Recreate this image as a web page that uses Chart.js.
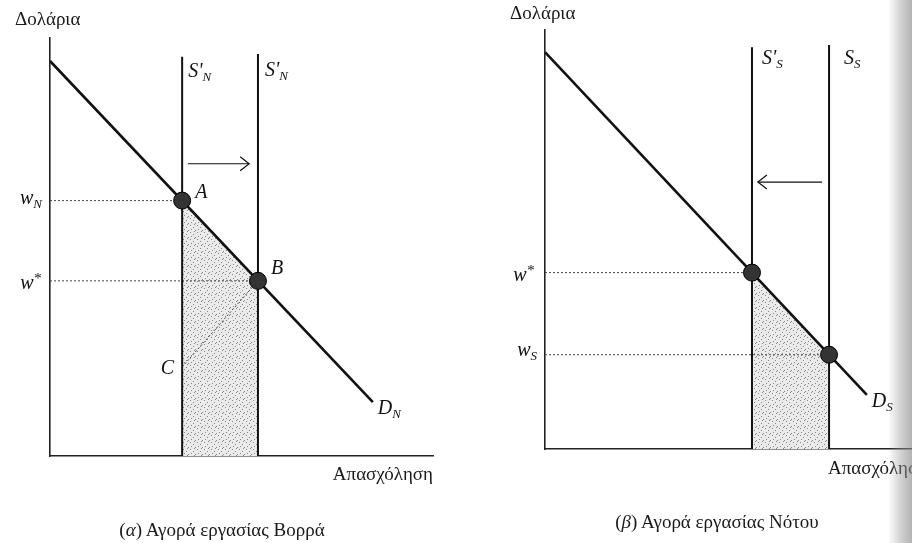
<!DOCTYPE html>
<html><head><meta charset="utf-8">
<script src="https://cdn.jsdelivr.net/npm/chart.js@4.4.1/dist/chart.umd.min.js"></script>
<style>
html,body{margin:0;padding:0;background:#fff;width:912px;height:543px;overflow:hidden;}
#wrap{position:relative;width:912px;height:543px;}
.panel{position:absolute;top:0;width:456px;height:543px;}
#pa{left:0}#pb{left:456px}
.cap{position:absolute;font-family:"Liberation Serif",serif;font-size:19px;line-height:19px;color:#1a1a1a;white-space:nowrap;transform:translateX(-50%);}
#edge{position:absolute;right:0;top:0;width:24px;height:543px;background:linear-gradient(to right,rgba(160,160,160,0),rgba(150,150,150,0.45) 55%,rgba(140,140,140,0.65));pointer-events:none;}
</style></head><body>
<div id="wrap">
<div class="panel" id="pa"><canvas id="ca" width="456" height="543"></canvas></div>
<div class="panel" id="pb"><canvas id="cb" width="456" height="543"></canvas></div>
<div class="cap" id="capA" style="left:222px;top:520px">(<i>α</i>) Αγορά εργασίας Βορρά</div>
<div class="cap" id="capB" style="left:717px;top:512px">(<i>β</i>) Αγορά εργασίας Νότου</div>
<div id="edge"></div>
</div>
<script>
// ---- Data (employment on x, dollars on y; arbitrary units 0-100) ----
// Panel (a): North
const northDemandX = [0, 84.3];
const northDemandY = [94.5, 12.9];
const northSupplyX = [34.5, 54.3];        // S'_N (before) , S'_N (after)
const northSupplyTop = [95.5, 96.2];
const northEquilX = [34.5, 54.3];          // A, B
const northEquilY = [61.1, 41.9];
const northEquilLabels = ['A', 'B'];
const northPointC = [34.5, 21.3];
const northWageLabels = ['N', '*'];        // w_N, w*
const northArrowX = [36, 52];
const northArrowY = 69.9;

// Panel (b): South
const southDemandX = [0, 87.7];
const southDemandY = [94.7, 12.9];
const southSupplyX = [56.4, 77.4];         // S'_S , S_S
const southSupplyTop = [95.9, 96.4];
const southEquilX = [56.4, 77.4];
const southEquilY = [42.1, 22.5];
const southWageLabels = ['*', 'S'];        // w*, w_S
const southArrowX = [75.5, 58];
const southArrowY = 63.7;

// ---- helpers ----
function makePattern(){
  const c = document.createElement('canvas'); c.width = 7; c.height = 7;
  const g = c.getContext('2d');
  g.fillStyle = '#ebebeb'; g.fillRect(0,0,7,7);
  g.fillStyle = '#858585';
  [[1,1],[4,3],[2,5],[6,6],[5,0]].forEach(p=>g.fillRect(p[0],p[1],1,1));
  return g.createPattern(c,'repeat');
}
const SERIF = '"Liberation Serif", "DejaVu Serif", serif';
function line(pts, opts){
  return Object.assign({data: pts, showLine: true, pointRadius: 0, borderColor: '#111', borderWidth: 2, fill: false, tension: 0}, opts||{});
}
function drawMath(ctx, x, y, main, sub, sup, align){
  ctx.save();
  ctx.fillStyle = '#111';
  ctx.textBaseline = 'alphabetic';
  const fMain = 'italic 20px ' + SERIF, fSub = 'italic 13px ' + SERIF;
  ctx.font = fMain; const wm = ctx.measureText(main).width;
  ctx.font = fSub; const ws = sub ? ctx.measureText(sub).width : 0;
  const wp = sup ? ctx.measureText(sup).width : 0;
  const total = wm + Math.max(ws, wp) + 1;
  let x0 = align === 'right' ? x - total : x;
  ctx.font = fMain; ctx.fillText(main, x0, y);
  ctx.font = fSub;
  if (sub) ctx.fillText(sub, x0 + wm, y + 4);
  if (sup) { ctx.font = 'italic 15px ' + SERIF; ctx.fillText(sup, x0 + wm, y - 6); }
  ctx.restore();
}
const annotate = {
  id: 'annotate',
  afterDatasetsDraw(chart){
    const {ctx, chartArea, scales} = chart;
    const o = chart.options.plugins.annotate;
    const px = v => scales.x.getPixelForValue(v), py = v => scales.y.getPixelForValue(v);
    chart.data.datasets.forEach((ds,i)=>{
      if (!ds.arrow) return;
      const pts = chart.getDatasetMeta(i).data;
      const a = pts[pts.length-2], b = pts[pts.length-1];
      const dir = Math.sign(b.x - a.x);
      ctx.save(); ctx.strokeStyle = '#111'; ctx.lineWidth = 1.2;
      ctx.beginPath();
      ctx.moveTo(b.x - dir*9, b.y - 7); ctx.lineTo(b.x, b.y); ctx.lineTo(b.x - dir*9, b.y + 7);
      ctx.stroke(); ctx.restore();
    });
    o.labels.forEach(l => drawMath(ctx, px(l.x) + l.dx, py(l.y) + l.dy, l.main, l.sub, l.sup, l.align));
    ctx.save(); ctx.fillStyle = '#1a1a1a'; ctx.font = '19px ' + SERIF; ctx.textBaseline = 'alphabetic';
    ctx.textAlign = 'left';
    ctx.fillText(o.yName, chartArea.left + o.yNameDx, chartArea.top + o.yNameDy);
    ctx.textAlign = o.xNameAlign;
    ctx.fillText(o.xName, (o.xNameAlign === 'right' ? chartArea.right : chartArea.left) + o.xNameDx, chartArea.bottom + o.xNameDy);
    ctx.restore();
  }
};
function scalesCfg(){
  const ax = {type:'linear', min:0, max:100, ticks:{display:false}, grid:{display:false, drawTicks:false}, border:{display:true, color:'#222', width:1.6}};
  return {x: Object.assign({}, ax), y: Object.assign({}, ax)};
}
const pattern = makePattern();
const dashed = {borderWidth: 1, borderColor: '#444', borderDash: [2,2], order: 8};
const dotStyle = {showLine:false, pointRadius: 8.5, pointBackgroundColor: '#333', pointBorderColor: '#000', pointBorderWidth: 1, order: 1};

// ---- Panel (a) ----
const dsA = [
  line([{x:northEquilX[0], y:northEquilY[0]}, {x:northEquilX[1], y:northEquilY[1]}], {borderWidth:0, fill:'origin', backgroundColor: pattern, order: 10}),
  line([{x:0,y:northEquilY[0]},{x:northEquilX[0],y:northEquilY[0]}], dashed),
  line([{x:0,y:northEquilY[1]},{x:northEquilX[1],y:northEquilY[1]}], dashed),
  line([{x:northPointC[0],y:northPointC[1]},{x:northEquilX[1],y:northEquilY[1]}], dashed),
  line([{x:northSupplyX[0],y:0},{x:northSupplyX[0],y:northSupplyTop[0]}], {borderWidth:2, order: 6}),
  line([{x:northSupplyX[1],y:0},{x:northSupplyX[1],y:northSupplyTop[1]}], {borderWidth:2, order: 6}),
  line([{x:northDemandX[0],y:northDemandY[0]},{x:northDemandX[1],y:northDemandY[1]}], {borderWidth:2.6, order: 4}),
  line([{x:northArrowX[0],y:northArrowY},{x:northArrowX[1],y:northArrowY}], {borderWidth:1.1, arrow:true, order: 3}),
  Object.assign({data: northEquilX.map((x,i)=>({x, y:northEquilY[i]}))}, dotStyle)
];
new Chart(document.getElementById('ca'), {
  type: 'scatter',
  data: {datasets: dsA},
  options: {
    responsive:false, animation:false, events:[],
    layout:{autoPadding:false, padding:{left:50, right:23, top:38, bottom:87}},
    scales: scalesCfg(),
    plugins: {legend:{display:false}, tooltip:{enabled:false},
      annotate: {
        yName:'Δολάρια', yNameDx:-35, yNameDy:-13,
        xName:'Απασχόληση', xNameAlign:'right', xNameDx:0, xNameDy:24,
        labels: [
          {x:northSupplyX[0], y:northSupplyTop[0], dx:6, dy:20, main:"S'", sub:'N'},
          {x:northSupplyX[1], y:northSupplyTop[1], dx:7, dy:22, main:"S'", sub:'N'},
          {x:northEquilX[0], y:northEquilY[0], dx:13, dy:-3, main:northEquilLabels[0]},
          {x:northEquilX[1], y:northEquilY[1], dx:13, dy:-7, main:northEquilLabels[1]},
          {x:northPointC[0], y:northPointC[1], dx:-7, dy:7, main:'C', align:'right'},
          {x:northDemandX[1], y:northDemandY[1], dx:5, dy:12, main:'D', sub:'N'},
          {x:0, y:northEquilY[0], dx:-7, dy:3, main:'w', sub:northWageLabels[0], align:'right'},
          {x:0, y:northEquilY[1], dx:-9, dy:8, main:'w', sup:northWageLabels[1], align:'right'}
        ]
      }
    }
  },
  plugins: [annotate]
});

// ---- Panel (b) ----
const dsB = [
  line([{x:southEquilX[0], y:southEquilY[0]}, {x:southEquilX[1], y:southEquilY[1]}], {borderWidth:0, fill:'origin', backgroundColor: pattern, order: 10}),
  line([{x:0,y:southEquilY[0]},{x:southEquilX[0],y:southEquilY[0]}], dashed),
  line([{x:0,y:southEquilY[1]},{x:southEquilX[1],y:southEquilY[1]}], dashed),
  line([{x:southSupplyX[0],y:0},{x:southSupplyX[0],y:southSupplyTop[0]}], {borderWidth:2, order: 6}),
  line([{x:southSupplyX[1],y:0},{x:southSupplyX[1],y:southSupplyTop[1]}], {borderWidth:2, order: 6}),
  line([{x:southDemandX[0],y:southDemandY[0]},{x:southDemandX[1],y:southDemandY[1]}], {borderWidth:2.6, order: 4}),
  line([{x:southArrowX[0],y:southArrowY},{x:southArrowX[1],y:southArrowY}], {borderWidth:1.1, arrow:true, order: 3}),
  Object.assign({data: southEquilX.map((x,i)=>({x, y:southEquilY[i]}))}, dotStyle)
];
new Chart(document.getElementById('cb'), {
  type: 'scatter',
  data: {datasets: dsB},
  options: {
    responsive:false, animation:false, events:[],
    layout:{autoPadding:false, padding:{left:89, right:0, top:30, bottom:94}},
    scales: scalesCfg(),
    plugins: {legend:{display:false}, tooltip:{enabled:false},
      annotate: {
        yName:'Δολάρια', yNameDx:-35, yNameDy:-11,
        xName:'Απασχόληση', xNameAlign:'left', xNameDx:283, xNameDy:25,
        labels: [
          {x:southSupplyX[0], y:southSupplyTop[0], dx:10, dy:17, main:"S'", sub:'S'},
          {x:southSupplyX[1], y:southSupplyTop[1], dx:15, dy:19, main:'S', sub:'S'},
          {x:southDemandX[1], y:southDemandY[1], dx:5, dy:12, main:'D', sub:'S'},
          {x:0, y:southEquilY[0], dx:-11, dy:8, main:'w', sup:southWageLabels[0], align:'right'},
          {x:0, y:southEquilY[1], dx:-7, dy:1, main:'w', sub:southWageLabels[1], align:'right'}
        ]
      }
    }
  },
  plugins: [annotate]
});
</script>
</body></html>
